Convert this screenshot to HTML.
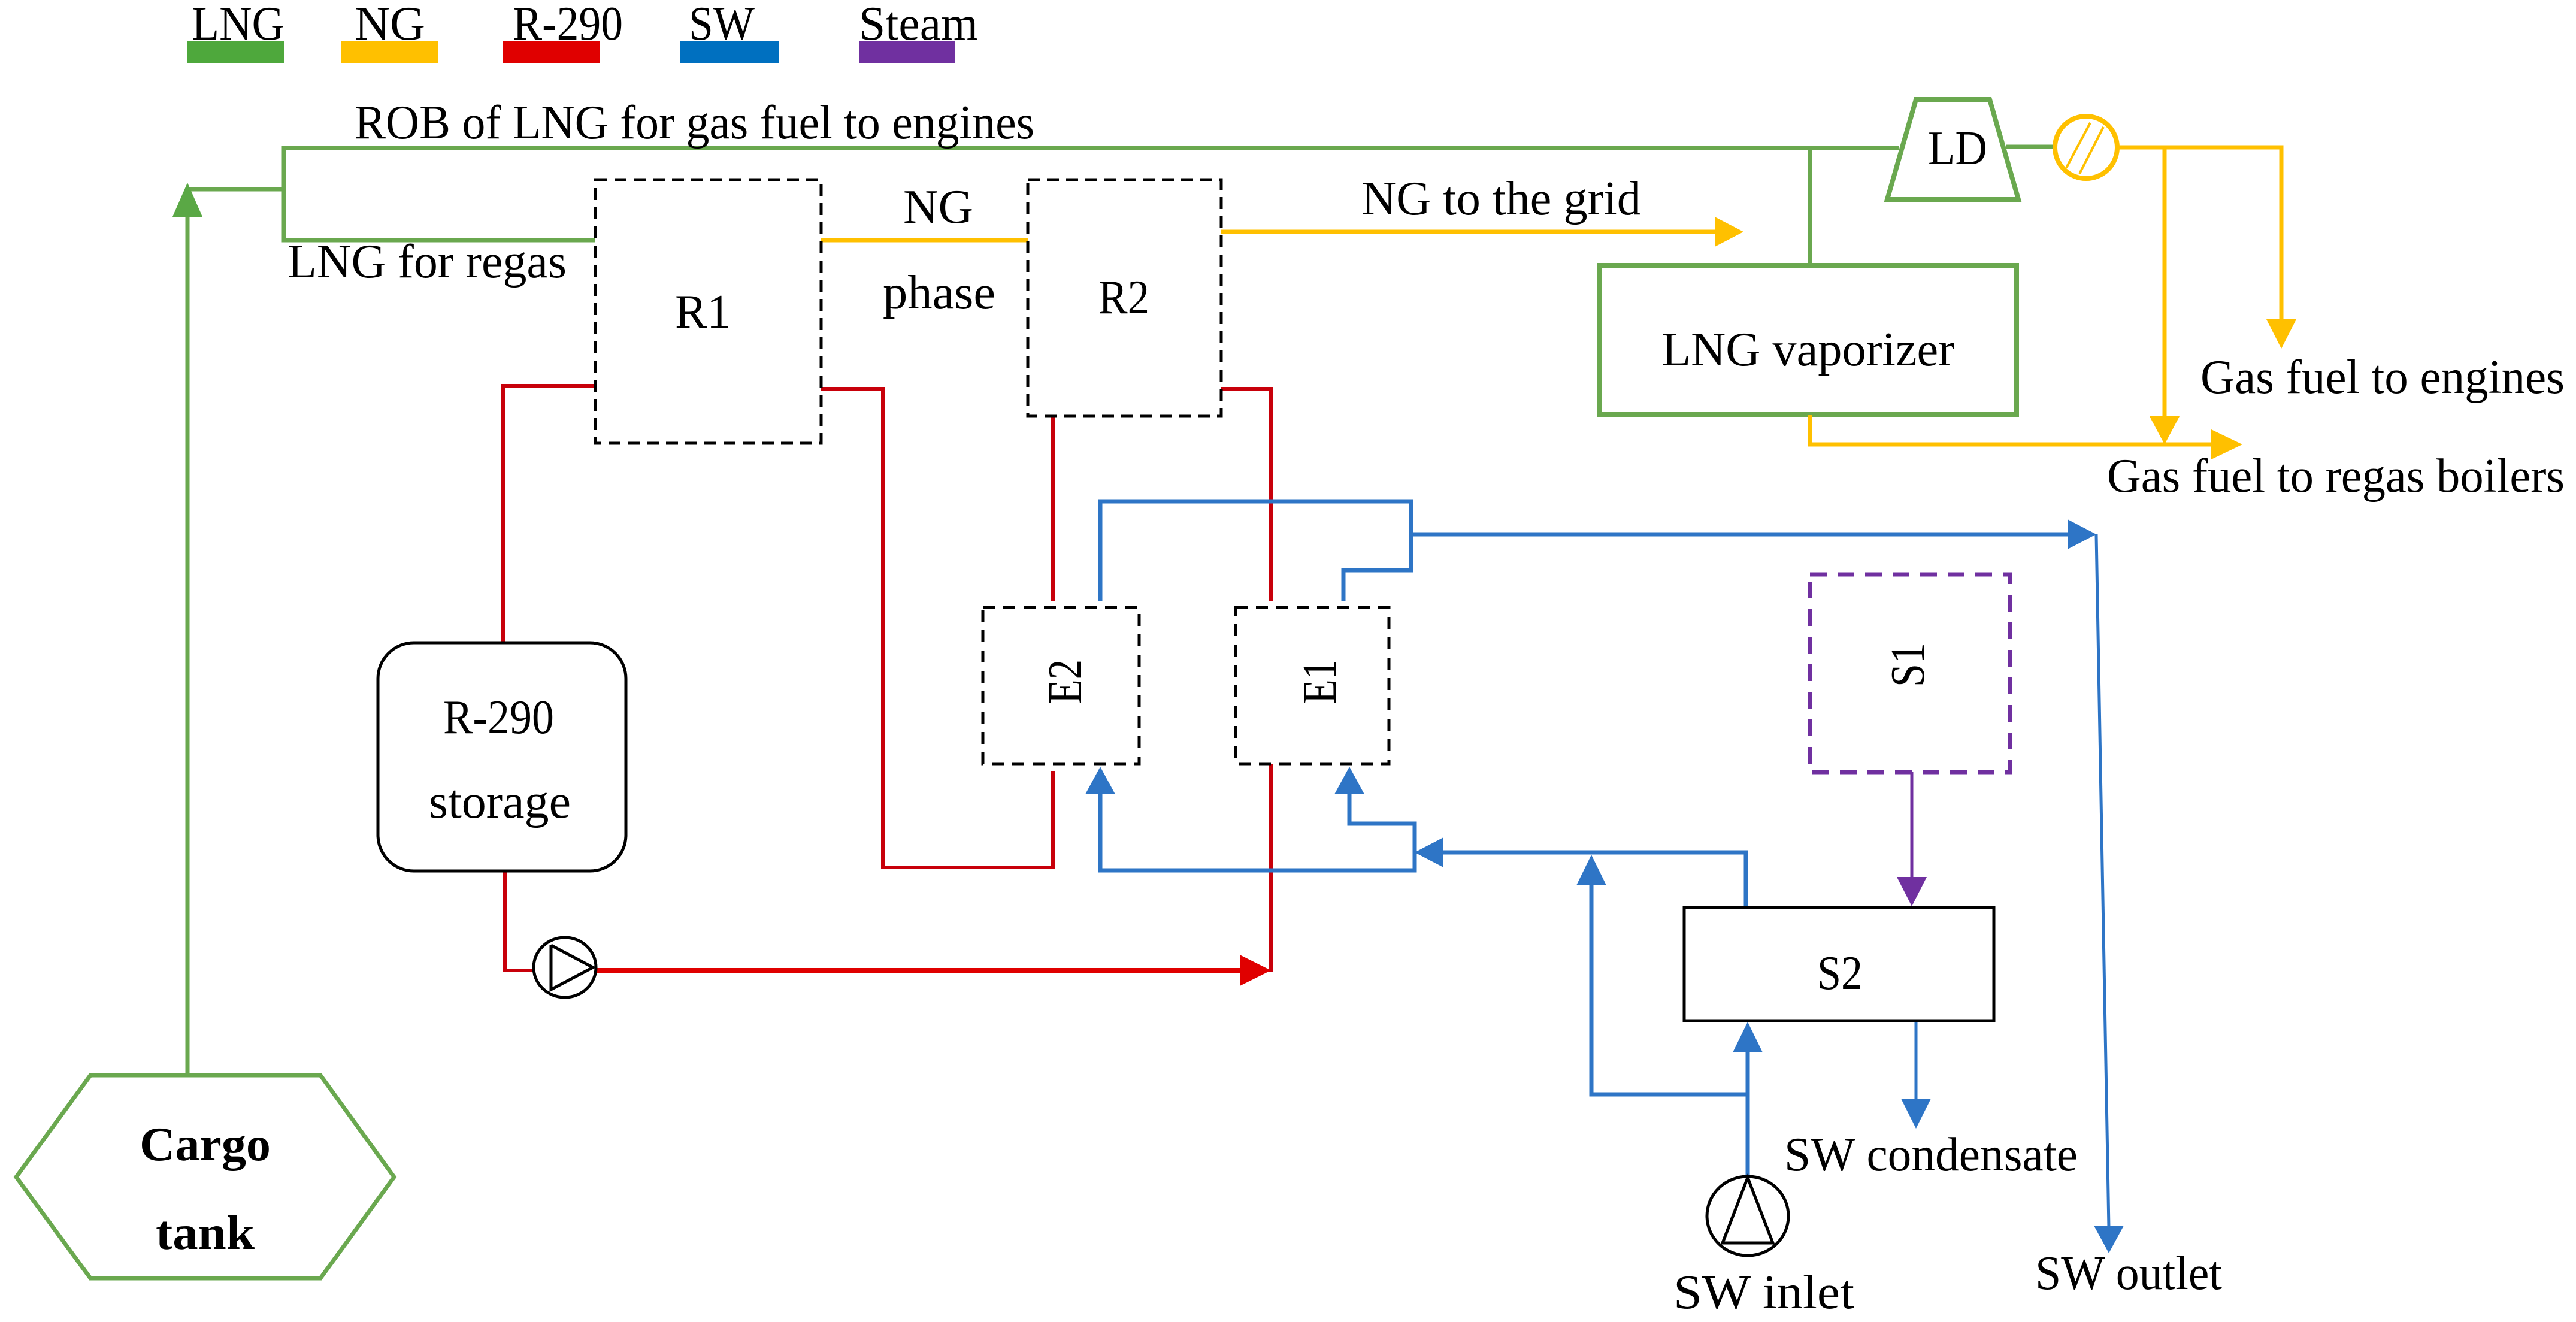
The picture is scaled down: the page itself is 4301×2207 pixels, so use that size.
<!DOCTYPE html>
<html><head><meta charset="utf-8"><style>html,body{margin:0;padding:0;background:#fff}svg{display:block}text{font-family:"Liberation Serif",serif;font-size:80px;fill:#000}</style></head>
<body>
<svg width="4301" height="2207" viewBox="0 0 4301 2207" xmlns="http://www.w3.org/2000/svg">
<!-- legend -->
<g>
<rect x="312" y="68" width="162" height="37" fill="#4ea83c"/>
<rect x="570" y="68" width="161" height="37" fill="#ffc000"/>
<rect x="840" y="68" width="161" height="37" fill="#e00000"/>
<rect x="1135" y="68" width="165" height="37" fill="#0070c0"/>
<rect x="1434" y="68" width="161" height="37" fill="#7030a0"/>
<text x="320" y="66" textLength="155" lengthAdjust="spacingAndGlyphs">LNG</text>
<text x="592" y="66" textLength="118" lengthAdjust="spacingAndGlyphs">NG</text>
<text x="856" y="66" textLength="184" lengthAdjust="spacingAndGlyphs">R-290</text>
<text x="1150" y="66" textLength="110" lengthAdjust="spacingAndGlyphs">SW</text>
<text x="1434" y="66" textLength="199" lengthAdjust="spacingAndGlyphs">Steam</text>
</g>

<!-- green LNG lines -->
<g stroke="#6aa84f" stroke-width="7" fill="none">
<polyline points="3171,247 474,247 474,401 994,401"/>
<line x1="313" y1="316" x2="474" y2="316"/>
<line x1="313" y1="340" x2="313" y2="1795"/>
<line x1="3022" y1="247" x2="3022" y2="443"/>
<line x1="3350" y1="245" x2="3428" y2="245"/>
<polygon points="3199,166 3322,166 3370,333 3151,333" stroke-width="8"/>
<rect x="2671" y="443" width="696" height="249" stroke-width="8"/>
<polygon points="151,1795 535,1795 658,1965 535,2134 151,2134 27,1965" stroke-width="7"/>
</g>
<polygon points="313,305 288,362 338,362" fill="#5aa845"/>

<!-- yellow NG lines -->
<g stroke="#ffc000" stroke-width="7" fill="none">
<line x1="1371" y1="401" x2="1716" y2="401"/>
<line x1="2039" y1="387" x2="2870" y2="387"/>
<polyline points="3538,246 3809,246 3809,540"/>
<line x1="3614" y1="246" x2="3614" y2="700"/>
<polyline points="3022,692 3022,742 3700,742"/>
<ellipse cx="3483" cy="246" rx="52" ry="52" stroke-width="8"/>
<line x1="3450" y1="280" x2="3490" y2="205" stroke-width="4"/>
<line x1="3472" y1="290" x2="3512" y2="212" stroke-width="4"/>
</g>
<g fill="#ffc000">
<polygon points="2911,387 2863,362 2863,412"/>
<polygon points="3809,582 3784,533 3834,533"/>
<polygon points="3614,742 3589,695 3639,695"/>
<polygon points="3744,742 3692,717 3692,767"/>
</g>

<!-- red R-290 lines -->
<g stroke="#c8000a" stroke-width="6" fill="none">
<polyline points="994,644 840,644 840,1073"/>
<polyline points="1371,649 1474,649 1474,1448 1758,1448 1758,1287"/>
<line x1="1758" y1="694" x2="1758" y2="1003"/>
<polyline points="2039,649 2122,649 2122,1003"/>
<line x1="2122" y1="1275" x2="2122" y2="1622"/>
<polyline points="843,1454 843,1620 890,1620"/>
<line x1="996" y1="1620" x2="2075" y2="1620" stroke="#e00000" stroke-width="8"/>
</g>
<polygon points="2122,1620 2070,1594 2070,1646" fill="#e00000"/>

<!-- blue SW lines -->
<g stroke="#2e75c6" stroke-width="7" fill="none">
<polyline points="1837,1003 1837,837 2356,837 2356,952 2243,952 2243,1003"/>
<line x1="2356" y1="892" x2="3455" y2="892"/>
<line x1="3500" y1="892" x2="3521" y2="2050" stroke-width="5"/>
<polyline points="1837,1326 1837,1453 2362,1453 2362,1375 2253,1375 2253,1326"/>
<polyline points="2405,1423 2915,1423 2915,1515"/>
<polyline points="2657,1478 2657,1827 2918,1827"/>
<line x1="2918" y1="1961" x2="2918" y2="1755"/>
<line x1="3199" y1="1704" x2="3199" y2="1838" stroke-width="5"/>
</g>
<g fill="#2e75c6">
<polygon points="3500,892 3452,867 3452,917"/>
<polygon points="3521,2092 3496,2046 3546,2046"/>
<polygon points="1837,1280 1812,1326 1862,1326"/>
<polygon points="2253,1280 2228,1326 2278,1326"/>
<polygon points="2362,1423 2410,1398 2410,1448"/>
<polygon points="2657,1427 2632,1478 2682,1478"/>
<polygon points="2918,1706 2893,1757 2943,1757"/>
<polygon points="3199,1884 3174,1834 3224,1834"/>
</g>

<!-- purple steam -->
<rect x="3022" y="959" width="334" height="330" fill="none" stroke="#7030a0" stroke-width="7" stroke-dasharray="28,18"/>
<line x1="3192" y1="1289" x2="3192" y2="1468" stroke="#7030a0" stroke-width="5"/>
<polygon points="3192,1513 3167,1464 3217,1464" fill="#7030a0"/>

<!-- black boxes -->
<g fill="none" stroke="#000" stroke-width="5">
<rect x="994" y="300" width="377" height="440" stroke-dasharray="20,12"/>
<rect x="1716" y="300" width="323" height="394" stroke-dasharray="20,12"/>
<rect x="1641" y="1014" width="261" height="261" stroke-dasharray="20,14"/>
<rect x="2063" y="1014" width="256" height="261" stroke-dasharray="20,14"/>
<rect x="631" y="1073" width="414" height="381" rx="60" ry="60"/>
<rect x="2812" y="1515" width="517" height="189"/>
<ellipse cx="943" cy="1615" rx="52" ry="50"/>
<polyline points="920,1578 990,1615 920,1652 920,1578"/>
<ellipse cx="2918" cy="2030" rx="68" ry="66"/>
<polygon points="2918,1966 2876,2075 2960,2075"/>
</g>

<!-- labels -->
<text x="592" y="231" textLength="1135" lengthAdjust="spacingAndGlyphs">ROB of LNG for gas fuel to engines</text>
<text x="480" y="463" textLength="466" lengthAdjust="spacingAndGlyphs">LNG for regas</text>
<text x="1127" y="547" textLength="93" lengthAdjust="spacingAndGlyphs">R1</text>
<text x="1508" y="372" textLength="117" lengthAdjust="spacingAndGlyphs">NG</text>
<text x="1474" y="515" textLength="188" lengthAdjust="spacingAndGlyphs">phase</text>
<text x="1834" y="523" textLength="85" lengthAdjust="spacingAndGlyphs">R2</text>
<text x="2273" y="358" textLength="467" lengthAdjust="spacingAndGlyphs">NG to the grid</text>
<text x="3219" y="274" textLength="99" lengthAdjust="spacingAndGlyphs">LD</text>
<text x="2774" y="610" textLength="489" lengthAdjust="spacingAndGlyphs">LNG vaporizer</text>
<text x="3674" y="656" textLength="608" lengthAdjust="spacingAndGlyphs">Gas fuel to engines</text>
<text x="3518" y="821" textLength="764" lengthAdjust="spacingAndGlyphs">Gas fuel to regas boilers</text>
<text x="740" y="1224" textLength="185" lengthAdjust="spacingAndGlyphs">R-290</text>
<text x="716" y="1365" textLength="237" lengthAdjust="spacingAndGlyphs">storage</text>
<text x="233" y="1937" textLength="219" lengthAdjust="spacingAndGlyphs" font-weight="bold">Cargo</text>
<text x="260" y="2085" textLength="165" lengthAdjust="spacingAndGlyphs" font-weight="bold">tank</text>
<text transform="translate(1805,1138) rotate(-90)" x="-37" y="0" font-size="66" textLength="74" lengthAdjust="spacingAndGlyphs">E2</text>
<text transform="translate(2230,1138) rotate(-90)" x="-37" y="0" font-size="66" textLength="74" lengthAdjust="spacingAndGlyphs">E1</text>
<text transform="translate(3212,1110) rotate(-90)" x="-37" y="0" font-size="66" textLength="74" lengthAdjust="spacingAndGlyphs">S1</text>
<text x="3034" y="1651" textLength="76" lengthAdjust="spacingAndGlyphs">S2</text>
<text x="2979" y="1954" textLength="490" lengthAdjust="spacingAndGlyphs">SW condensate</text>
<text x="2794" y="2184" textLength="302" lengthAdjust="spacingAndGlyphs">SW inlet</text>
<text x="3398" y="2152" textLength="312" lengthAdjust="spacingAndGlyphs">SW outlet</text>
</svg>
</body></html>
